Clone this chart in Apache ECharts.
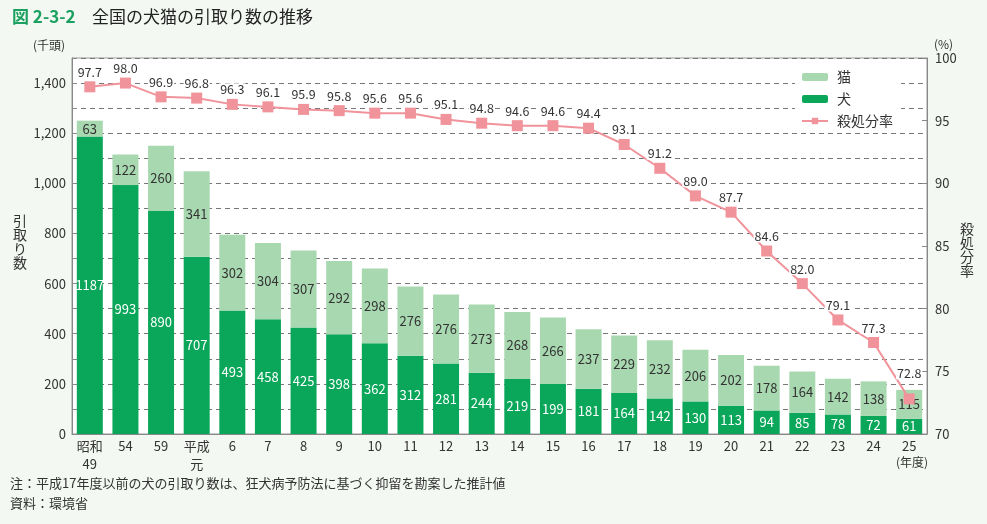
<!DOCTYPE html>
<html><head><meta charset="utf-8">
<script src="https://cdn.jsdelivr.net/npm/echarts@6/dist/echarts.min.js"></script>
<style>html,body{margin:0;padding:0;background:#f3f8f2;}#c{width:987px;height:524px;}</style>
</head><body><div id="c"></div>
<script>
const categories = ['昭和\n49','54','59','平成\n元','6','7','8','9','10','11','12','13','14','15','16','17','18','19','20','21','22','23','24','25'];
const dogs = [1187,993,890,707,493,458,425,398,362,312,281,244,219,199,181,164,142,130,113,94,85,78,72,61];
const cats = [63,122,260,341,302,304,307,292,298,276,276,273,268,266,237,229,232,206,202,178,164,142,138,115];
const rates = [97.7,98.0,96.9,96.8,96.3,96.1,95.9,95.8,95.6,95.6,95.1,94.8,94.6,94.6,94.4,93.1,91.2,89.0,87.7,84.6,82.0,79.1,77.3,72.8];
const leftTicks = [0,200,400,600,800,1000,1200,1400];

const FONT = '"Noto Sans CJK JP", "Noto Sans", sans-serif';
const chart = echarts.init(document.getElementById('c'));
const rateData = rates.map((v,i)=> i===rates.length-1 ? {value:v, label:{distance:14}} : v);
chart.setOption({
  backgroundColor:'#f3f8f2',
  textStyle:{fontFamily:FONT},
  grid:{left:72,right:60,top:58,bottom:90,show:true,backgroundColor:'#fff',borderColor:'#999',borderWidth:1},
  legend:{
    orient:'vertical', left:795, top:66, itemWidth:26, itemHeight:8, itemGap:8,
    backgroundColor:'#fff', padding:[4,8,4,6],
    data:['猫','犬','殺処分率'],
    textStyle:{fontSize:14,color:'#333',fontFamily:FONT,padding:[0,0,0,4]}
  },
  xAxis:{
    type:'category', data:categories, boundaryGap:true,
    axisLine:{lineStyle:{color:'#888'}},
    axisTick:{inside:true,length:5,lineStyle:{color:'#888'}},
    axisLabel:{color:'#333',fontSize:13,lineHeight:18,margin:3,fontFamily:FONT}
  },
  yAxis:[{
    type:'value', min:0, max:1500, interval:100,
    axisLine:{show:true,lineStyle:{color:'#888'}},
    axisTick:{show:true,inside:true,length:5,lineStyle:{color:'#888'}},
    axisLabel:{color:'#333',fontSize:13,margin:6,fontFamily:FONT,
      formatter:v=> leftTicks.indexOf(v)>=0 ? v.toLocaleString('en-US') : ''},
    splitLine:{show:true,lineStyle:{color:'#777',type:[5,4],width:1}}
  },{
    type:'value', min:70, max:100, interval:5,
    axisLine:{show:true,lineStyle:{color:'#888'}},
    axisTick:{show:true,inside:true,length:5,lineStyle:{color:'#888'}},
    axisLabel:{color:'#333',fontSize:13,margin:8,fontFamily:FONT},
    splitLine:{show:false}
  }],
  series:[{
    name:'犬', type:'bar', stack:'a', data:dogs, barWidth:'73%',
    itemStyle:{color:'#0aa65a'},
    label:{show:true,position:'inside',color:'#fff',fontSize:13,fontFamily:FONT}
  },{
    name:'猫', type:'bar', stack:'a', data:cats, barWidth:'73%',
    itemStyle:{color:'#a8d8b0'},
    label:{show:true,position:'inside',color:'#333',fontSize:13,fontFamily:FONT}
  },{
    name:'殺処分率', type:'line', yAxisIndex:1, data:rateData,
    symbol:'rect', symbolSize:11, z:5,
    lineStyle:{color:'#f0939a',width:2},
    itemStyle:{color:'#f0939a'},
    label:{show:true,position:'top',distance:3,color:'#333',fontSize:12.5,fontFamily:FONT,
      formatter:p=>Number(p.value).toFixed(1),backgroundColor:'#fff',padding:[0,1]}
  }],
  graphic:[
    {type:'text',left:12,top:8,style:{text:'図 2-3-2',fill:'#1aa060',font:'bold 17px '+FONT}},
    {type:'text',left:92,top:8,style:{text:'全国の犬猫の引取り数の推移',fill:'#222',font:'17px '+FONT}},
    {type:'text',left:33,top:39,style:{text:'(千頭)',fill:'#333',font:'12px '+FONT}},
    {type:'text',left:934,top:38,style:{text:'(%)',fill:'#333',font:'12px '+FONT}},
    {type:'text',left:13,top:214,style:{text:'引\n取\nり\n数',fill:'#333',font:'14px '+FONT,lineHeight:14}},
    {type:'text',left:960,top:222,style:{text:'殺\n処\n分\n率',fill:'#333',font:'14px '+FONT,lineHeight:14}},
    {type:'text',left:896,top:456,style:{text:'(年度)',fill:'#333',font:'12px '+FONT}},
    {type:'text',left:10,top:477,style:{text:'注：平成17年度以前の犬の引取り数は、狂犬病予防法に基づく抑留を勘案した推計値',fill:'#333',font:'13px '+FONT}},
    {type:'text',left:10,top:497,style:{text:'資料：環境省',fill:'#333',font:'13px '+FONT}}
  ]
});
</script></body></html>
